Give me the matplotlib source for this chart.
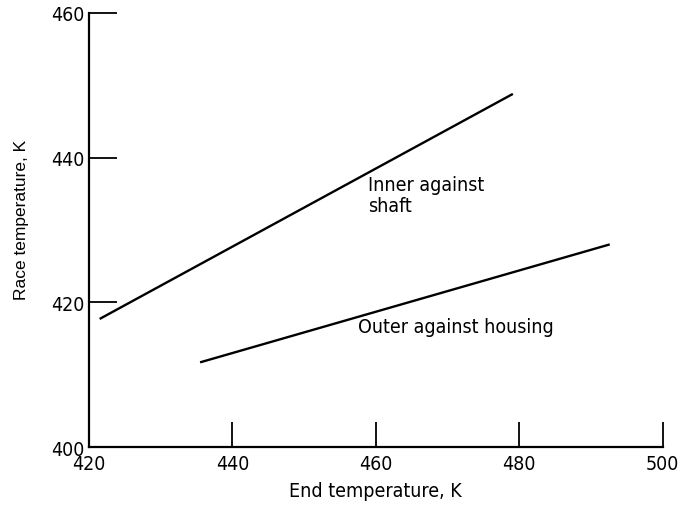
import matplotlib
matplotlib.use("Agg")
import matplotlib.pyplot as plt

# Daten
inner_x = [421.5, 479.1]
inner_y = [417.7, 448.8]
outer_x = [435.5, 492.6]
outer_y = [411.7, 428.0]
x_ticks = [420, 440, 460, 480, 500]
y_ticks = [400, 420, 440, 460]

plt.rcParams['font.family'] = ['DejaVu Sans']
plt.rcParams['font.stretch'] = 'condensed'

fig = plt.figure(figsize=(6.89, 5.06), dpi=100)
ax = fig.add_axes([0.129, 0.1146, 0.833, 0.858])

ax.plot(inner_x, inner_y, color='black', lw=1.7, solid_capstyle='butt')
ax.plot(outer_x, outer_y, color='black', lw=1.7, solid_capstyle='butt')

ax.set_xlim(420, 500)
ax.set_ylim(400, 460)
ax.set_xticks(x_ticks)
ax.set_yticks(y_ticks)

for s in ['top', 'right']:
    ax.spines[s].set_visible(False)
for s in ['left', 'bottom']:
    ax.spines[s].set_linewidth(1.6)

ax.tick_params(axis='x', direction='in', length=18, width=1.3, labelsize=14, pad=5)
ax.tick_params(axis='y', direction='in', length=20, width=1.3, labelsize=14, pad=3)

ax.set_xlabel('End temperature, K', fontsize=14, labelpad=6)
ax.set_ylabel('Race temperature, K', fontsize=12.5, family=['Liberation Sans', 'DejaVu Sans'],
              stretch='normal')
ax.yaxis.set_label_coords(-0.105, 0.525)

ax.text(458.9, 437.6, 'Inner against\nshaft', fontsize=14, va='top', ha='left', linespacing=1.15)
ax.text(457.5, 418.0, 'Outer against housing', fontsize=14, va='top', ha='left')

fig.savefig('out.png', dpi=100)
